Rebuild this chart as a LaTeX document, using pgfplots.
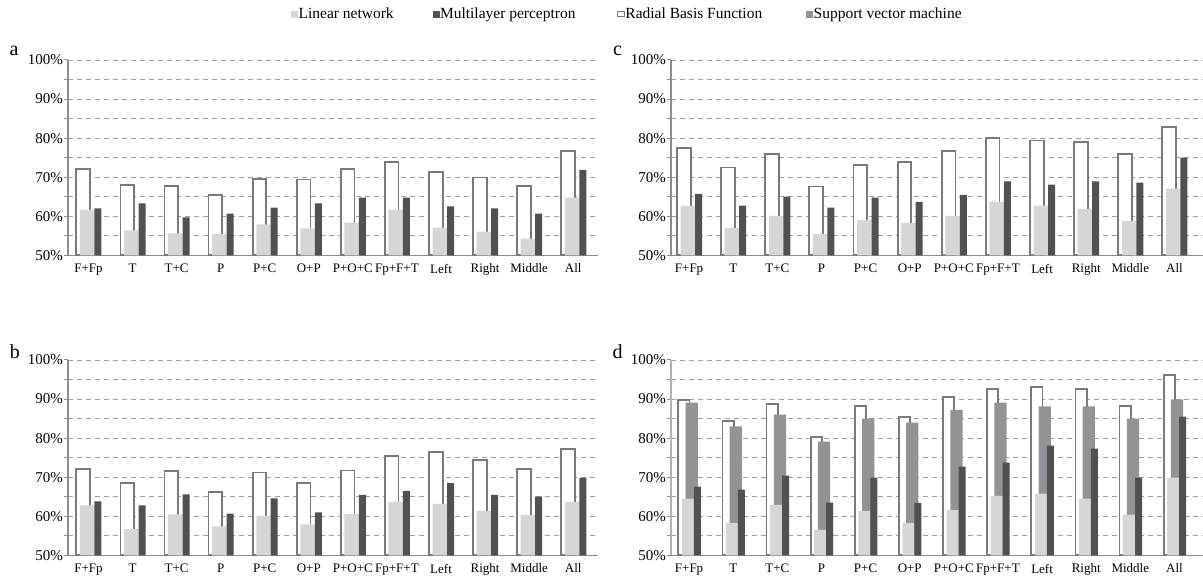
\documentclass[border=0pt]{standalone}
\usepackage{pgfplots}
\pgfplotsset{compat=1.18}
\usepackage{pgfplotstable}
\usepackage{fontspec}
\setmainfont{Liberation Serif}
\definecolor{linc}{RGB}{214,214,210}
\definecolor{mlpc}{RGB}{83,81,79}
\definecolor{svmc}{RGB}{147,147,150}
\definecolor{rbfc}{RGB}{122,122,122}
\definecolor{axc}{RGB}{140,140,140}
\definecolor{gridc}{RGB}{160,160,160}

% panel a
\pgfplotstableread{
x rbf lin mlp
0 72.0 61.7 62.0
1 67.9 56.4 63.3
2 67.7 55.6 59.7
3 65.4 55.4 60.7
4 69.5 57.9 62.2
5 69.4 56.9 63.3
6 72.0 58.4 64.8
7 73.9 61.7 64.8
8 71.3 57.1 62.5
9 69.9 56.1 62.0
10 67.7 54.3 60.7
11 76.7 64.8 71.9
}\dataA
% panel b
\pgfplotstableread{
x rbf lin mlp
0 72.2 62.8 63.8
1 68.5 56.7 62.8
2 71.6 60.5 65.6
3 66.3 57.4 60.7
4 71.2 60.2 64.6
5 68.5 57.9 61.0
6 71.7 60.6 65.5
7 75.4 63.7 66.5
8 76.4 63.2 68.5
9 74.4 61.4 65.5
10 72.1 60.3 65.0
11 77.2 63.7 69.8
}\dataB
% panel c
\pgfplotstableread{
x rbf lin mlp
0 77.5 62.7 65.7
1 72.5 57.0 62.7
2 75.9 60.1 65.0
3 67.6 55.5 62.2
4 73.1 59.1 64.8
5 73.8 58.3 63.7
6 76.8 60.1 65.5
7 80.0 63.7 68.9
8 79.4 62.7 68.1
9 79.0 61.9 68.9
10 75.9 58.8 68.6
11 82.9 67.1 75.0
}\dataC
% panel d
\pgfplotstableread{
x rbf svm lin mlp
0 89.7 89.1 64.5 67.6
1 84.3 83.0 58.3 66.8
2 88.8 86.0 62.9 70.4
3 80.2 79.1 56.5 63.5
4 88.2 85.0 61.4 69.9
5 85.4 84.0 58.3 63.4
6 90.5 87.2 61.6 72.7
7 92.5 89.1 65.2 73.7
8 93.0 88.1 65.8 78.1
9 92.5 88.1 64.5 77.3
10 88.2 85.0 60.4 69.9
11 96.1 89.9 69.9 85.5
}\dataD

\pgfplotsset{
  panel/.style={
    scale only axis, height=195.5pt,
    ymin=50, ymax=100,
    set layers=standard,
    axis x line*=bottom, axis y line*=left,
    axis line style={draw=axc, line width=1.5pt, -},
    ytick={50,60,70,80,90,100},
    yticklabels={50\%,60\%,70\%,80\%,90\%,100\%},
    minor ytick={55,65,75,85,95},
    ymajorgrids, yminorgrids,
    major grid style={draw=gridc, line width=0.9pt, dash pattern=on 5pt off 4pt},
    minor grid style={draw=gridc, line width=0.9pt, dash pattern=on 5pt off 4pt},
    xtick={0,...,11},
    xticklabels={F+Fp,T,T+C,P,P+C,O+P,P+O+C,Fp+F+T,Left,Right,Middle,All},
    xtick style={draw=none},
    ytick style={draw=axc, line width=1pt},
    tick align=outside, major tick length=4pt, minor tick length=4pt,
    yticklabel style={font=\fontsize{15}{15}\selectfont, inner sep=1pt},
    xticklabel style={font=\fontsize{13}{13}\selectfont, yshift=-1pt},
  },
  leftp/.style={panel, width=530pt, xmin=-0.465, xmax=11.553},
  rightp/.style={panel, width=531.5pt, xmin=-0.408, xmax=11.63},
}

\begin{document}
\begin{tikzpicture}
\path (0,0) rectangle (1203pt,579pt);

% ---------------- panel a ----------------
\begin{axis}[leftp, at={(68pt,323.5pt)}, anchor=south west,
  legend style={at={(0.4155,1.235)}, anchor=west, draw=none, fill=none,
    legend columns=4, font=\fontsize{15.5}{15.5}\selectfont,
    nodes={inner sep=1pt}},
  legend cell align=left]
\addlegendimage{legend image code/.code={\fill[linc] (0pt,-3pt) rectangle (6pt,3pt);}}
\addlegendentry{Linear network\rule{38pt}{0pt}}
\addlegendimage{legend image code/.code={\fill[mlpc] (0pt,-3pt) rectangle (6pt,3pt);}}
\addlegendentry{Multilayer perceptron\rule{40pt}{0pt}}
\addlegendimage{legend image code/.code={\draw[rbfc, line width=0.9pt] (0.45pt,-2.8pt) rectangle (7.5pt,2.8pt);}}
\addlegendentry{Radial Basis Function\rule{43pt}{0pt}}
\addlegendimage{legend image code/.code={\fill[svmc] (0pt,-3pt) rectangle (6pt,3pt);}}
\addlegendentry{Support vector machine}
\addplot[forget plot, ybar, bar width=13.7pt, bar shift=-5.25pt, draw=rbfc, line width=1.8pt, fill=white] table[x=x,y=rbf]{\dataA};
\addplot[forget plot, ybar, bar width=14.5pt, bar shift=-1.25pt, draw=none, fill=linc] table[x=x,y=lin]{\dataA};
\addplot[forget plot, ybar, bar width=7pt, bar shift=9.5pt, draw=none, fill=mlpc] table[x=x,y=mlp]{\dataA};
\end{axis}

% ---------------- panel c ----------------
\begin{axis}[rightp, at={(671.5pt,323.5pt)}, anchor=south west]
\addplot[ybar, bar width=13.7pt, bar shift=-5.25pt, draw=rbfc, line width=1.8pt, fill=white] table[x=x,y=rbf]{\dataC};
\addplot[ybar, bar width=14.5pt, bar shift=-1.25pt, draw=none, fill=linc] table[x=x,y=lin]{\dataC};
\addplot[ybar, bar width=7pt, bar shift=9.5pt, draw=none, fill=mlpc] table[x=x,y=mlp]{\dataC};
\end{axis}

% ---------------- panel b ----------------
\begin{axis}[leftp, at={(68pt,23.3pt)}, anchor=south west]
\addplot[ybar, bar width=13.7pt, bar shift=-5.25pt, draw=rbfc, line width=1.8pt, fill=white] table[x=x,y=rbf]{\dataB};
\addplot[ybar, bar width=14.5pt, bar shift=-1.25pt, draw=none, fill=linc] table[x=x,y=lin]{\dataB};
\addplot[ybar, bar width=7pt, bar shift=9.5pt, draw=none, fill=mlpc] table[x=x,y=mlp]{\dataB};
\end{axis}

% ---------------- panel d ----------------
\begin{axis}[rightp, at={(671.5pt,23.3pt)}, anchor=south west,
  y axis line style={draw=black!30}]
\addplot[ybar, bar width=11.2pt, bar shift=-5.2pt, draw=rbfc, line width=1.8pt, fill=white] table[x=x,y=rbf]{\dataD};
\addplot[ybar, bar width=12.2pt, bar shift=2.6pt, draw=none, fill=svmc] table[x=x,y=svm]{\dataD};
\addplot[ybar, bar width=12pt, bar shift=-1.3pt, draw=none, fill=linc] table[x=x,y=lin]{\dataD};
\addplot[ybar, bar width=7pt, bar shift=8.2pt, draw=none, fill=mlpc] table[x=x,y=mlp]{\dataD};
\end{axis}

\node[anchor=base, font=\fontsize{20}{20}\selectfont] at (14pt,523pt) {a};
\node[anchor=base, font=\fontsize{20}{20}\selectfont] at (618pt,523pt) {c};
\node[anchor=base, font=\fontsize{20}{20}\selectfont] at (15pt,220pt) {b};
\node[anchor=base, font=\fontsize{20}{20}\selectfont] at (618pt,220pt) {d};
\end{tikzpicture}
\end{document}
